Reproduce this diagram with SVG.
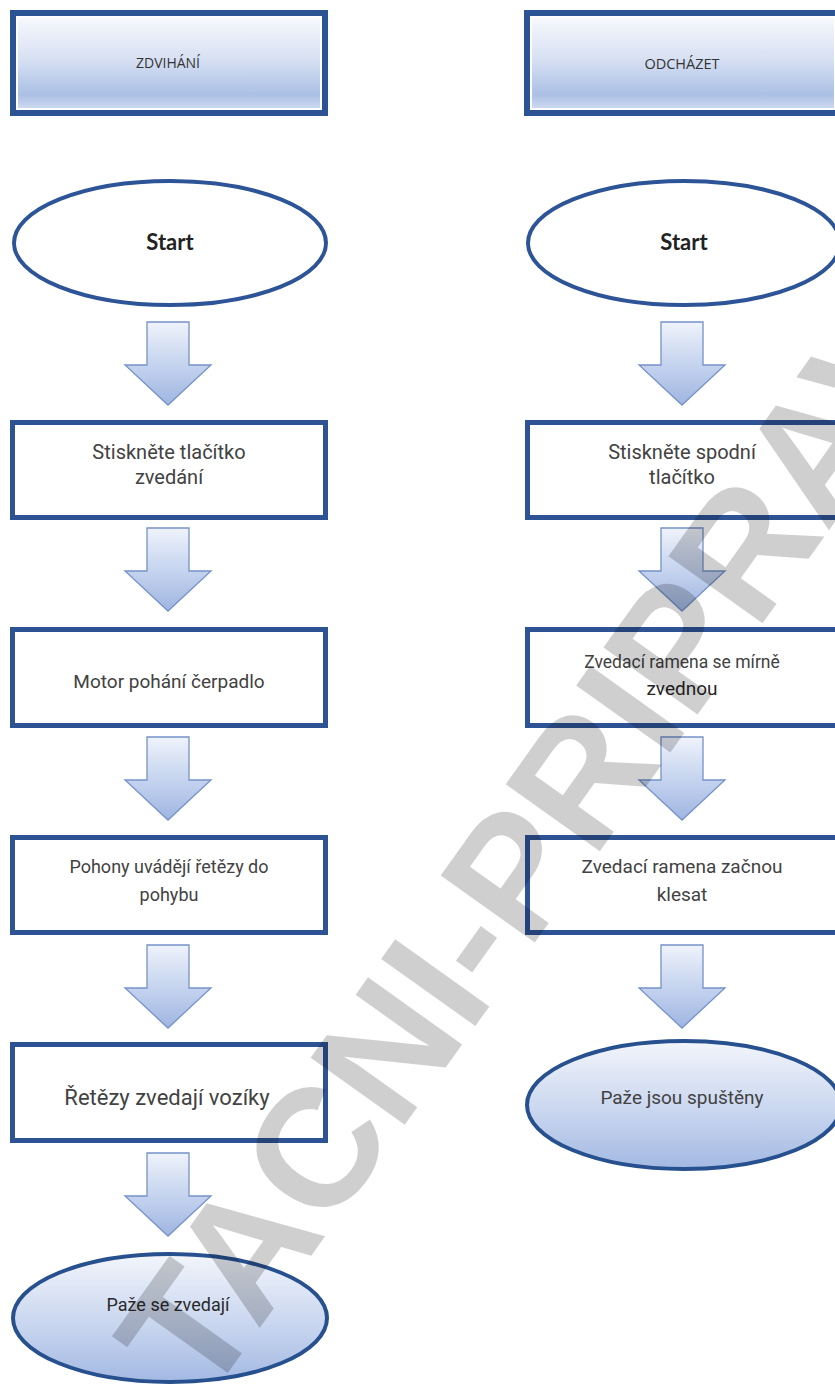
<svg xmlns="http://www.w3.org/2000/svg" width="835" height="1386" viewBox="0 0 835 1386">
<defs>
<linearGradient id="hdrGrad" x1="0" y1="0" x2="0" y2="1">
<stop offset="0" stop-color="#f6f8fc"/>
<stop offset="0.45" stop-color="#d8e1f3"/>
<stop offset="0.85" stop-color="#abc0e5"/>
<stop offset="1" stop-color="#ccd8ef"/>
</linearGradient>
<linearGradient id="arrGrad" x1="0" y1="0" x2="0" y2="1">
<stop offset="0" stop-color="#eff3fb"/>
<stop offset="0.5" stop-color="#c6d4ef"/>
<stop offset="1" stop-color="#9fb6e1"/>
</linearGradient>
<linearGradient id="endGrad" x1="0" y1="0" x2="0" y2="1">
<stop offset="0" stop-color="#f2f5fb"/>
<stop offset="0.55" stop-color="#c9d6ef"/>
<stop offset="1" stop-color="#a3b9e3"/>
</linearGradient>
</defs>
<style>
.hdrOuter{fill:#ffffff;stroke:#2c5394;stroke-width:6}
.hdrFill{fill:url(#hdrGrad)}
.box{fill:#ffffff;stroke:#2e5395;stroke-width:5}
.start{fill:#ffffff;stroke:#2c5496;stroke-width:4}
.end{fill:url(#endGrad);stroke:#27508f;stroke-width:4}
.arr{fill:url(#arrGrad);stroke:#7692c8;stroke-width:1.3;stroke-linejoin:miter}
.t{font-family:Roboto,"Liberation Sans",sans-serif;fill:#424242;text-anchor:middle}
.h{font-family:"Open Sans","Liberation Sans",sans-serif;fill:#333333;text-anchor:middle}
.s{font-family:Lato,"Liberation Sans",sans-serif;font-weight:bold;fill:#222222;text-anchor:middle;font-size:22px}
.wm{font-family:"Liberation Sans",Arial,sans-serif;font-weight:bold;fill:#000000;fill-opacity:0.19;font-size:168px}
</style>

<g id="hdr-left">
<rect class="hdrOuter" x="13" y="13" width="312" height="100"/>
<rect class="hdrFill" x="18" y="18" width="302" height="90"/>
<text class="h" x="168" y="68" font-size="14">ZDVIHÁNÍ</text>
</g>
<g id="hdr-right">
<rect class="hdrOuter" x="527" y="13" width="312" height="100"/>
<rect class="hdrFill" x="532" y="18" width="302" height="90"/>
<text class="h" x="682" y="69" font-size="14.5">ODCHÁZET</text>
</g>

<g id="start-left">
<ellipse class="start" cx="170" cy="243" rx="156" ry="62"/>
<text class="s" x="170" y="250">Start</text>
</g>
<g id="start-right">
<ellipse class="start" cx="684" cy="243" rx="156" ry="62"/>
<text class="s" x="684" y="250">Start</text>
</g>

<g id="l1">
<rect class="box" x="12.5" y="422.5" width="313" height="95"/>
<text class="t" x="169" y="459" font-size="20">Stiskněte tlačítko</text>
<text class="t" x="169" y="484" font-size="20">zvedání</text>
</g>
<g id="l2">
<rect class="box" x="12.5" y="629.5" width="313" height="96"/>
<text class="t" x="169" y="688" font-size="19">Motor pohání čerpadlo</text>
</g>
<g id="l3">
<rect class="box" x="12.5" y="837.5" width="313" height="95"/>
<text class="t" x="169" y="873" font-size="18">Pohony uvádějí řetězy do</text>
<text class="t" x="169" y="901" font-size="18">pohybu</text>
</g>
<g id="l4">
<rect class="box" x="12.5" y="1044.5" width="313" height="96"/>
<text class="t" x="167" y="1105" font-size="22">Řetězy zvedají vozíky</text>
</g>
<g id="l-end">
<ellipse class="end" cx="170" cy="1318" rx="157" ry="64"/>
<text class="t" x="168" y="1311" font-size="18" style="fill:#2a2a2a">Paže se zvedají</text>
</g>

<g id="r1">
<rect class="box" x="527.5" y="422.5" width="313" height="95"/>
<text class="t" x="682" y="459" font-size="20">Stiskněte spodní</text>
<text class="t" x="682" y="484" font-size="20">tlačítko</text>
</g>
<g id="r2">
<rect class="box" x="527.5" y="629.5" width="313" height="96"/>
<text class="t" x="682" y="668" font-size="17.5">Zvedací ramena se mírně</text>
<text class="t" x="682" y="695" font-size="19" style="fill:#262626">zvednou</text>
</g>
<g id="r3">
<rect class="box" x="527.5" y="837.5" width="313" height="95"/>
<text class="t" x="682" y="873" font-size="19">Zvedací ramena začnou</text>
<text class="t" x="682" y="901" font-size="19">klesat</text>
</g>
<g id="r-end">
<ellipse class="end" cx="684" cy="1105" rx="157" ry="64"/>
<text class="t" x="682" y="1104" font-size="19">Paže jsou spuštěny</text>
</g>

<g id="connectors">
<path class="arr" d="M147,322 H189 V365 H211 L168,405 L125,365 H147 Z"/>
<path class="arr" d="M147,528 H189 V571 H211 L168,611 L125,571 H147 Z"/>
<path class="arr" d="M147,737 H189 V780 H211 L168,820 L125,780 H147 Z"/>
<path class="arr" d="M147,945 H189 V988 H211 L168,1028 L125,988 H147 Z"/>
<path class="arr" d="M147,1153 H189 V1196 H211 L168,1236 L125,1196 H147 Z"/>
<path class="arr" d="M661,322 H703 V365 H725 L682,405 L639,365 H661 Z"/>
<path class="arr" d="M661,528 H703 V571 H725 L682,611 L639,571 H661 Z"/>
<path class="arr" d="M661,737 H703 V780 H725 L682,820 L639,780 H661 Z"/>
<path class="arr" d="M661,945 H703 V988 H725 L682,1028 L639,988 H661 Z"/>
</g>

<text class="wm" transform="translate(205,1405) rotate(-54.5)">TACNI-PRIPRAVA</text>
</svg>
